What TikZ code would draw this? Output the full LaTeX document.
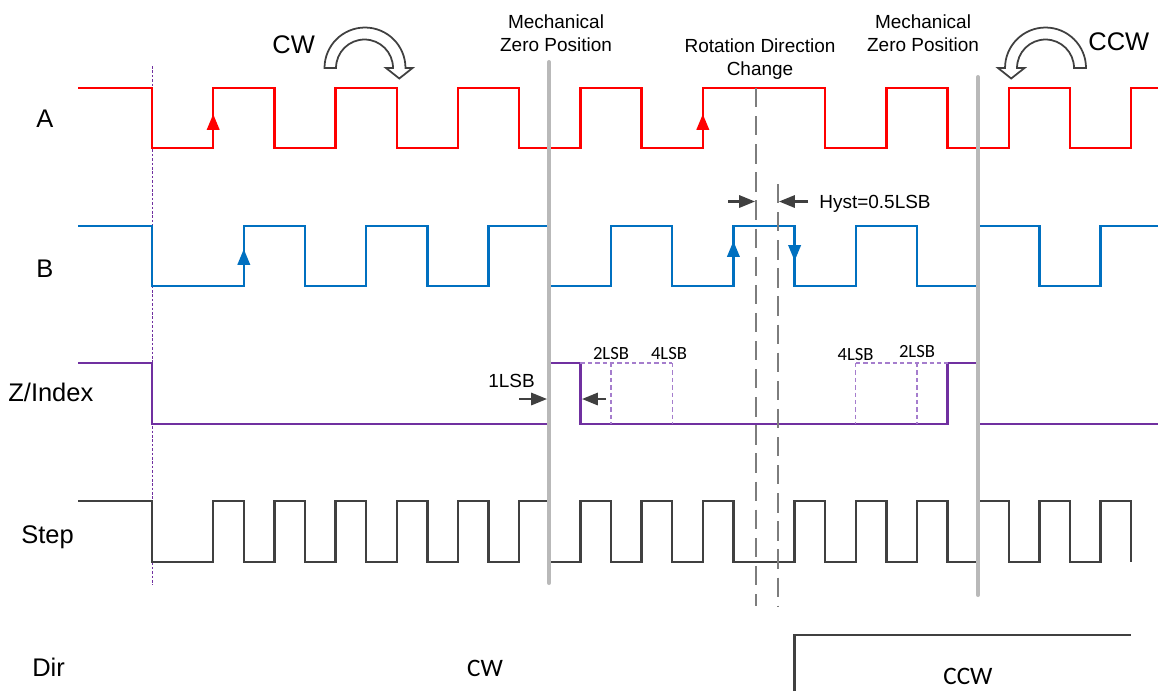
\documentclass[tikz,border=0pt]{standalone}
\usepackage{fontspec}
\setmainfont{Liberation Sans}
\newfontfamily\calibri{Carlito}
\usetikzlibrary{arrows.meta}

\definecolor{sigA}{RGB}{255,0,0}
\definecolor{sigB}{RGB}{0,112,192}
\definecolor{sigZ}{RGB}{112,48,160}
\definecolor{sigZlight}{RGB}{165,125,205}
\definecolor{darkline}{RGB}{64,64,64}
\definecolor{zeroline}{RGB}{185,185,185}
\definecolor{hystline}{RGB}{125,125,125}

\begin{document}
\begin{tikzpicture}[x=0.02cm,y=-0.02cm,
    wave/.style={line width=1.4pt,line join=miter},
    edgetip/.style={-{Triangle[length=9pt,width=7pt]}},
    marktip/.style={darkline,line width=1.2pt,-{Triangle[length=9pt,width=7pt]}},
    siglabel/.style={inner sep=0pt,font=\fontsize{14.5}{17}\selectfont},
    notetext/.style={inner sep=0pt,font=\fontsize{10.8}{13.3}\selectfont,align=center},
    lsbtext/.style={inner sep=0pt,font=\calibri\fontsize{10.6}{12}\selectfont},
    rotarrow/.style={draw=darkline,fill=white,line width=1pt,line join=miter}]
    \useasboundingbox (0,0) rectangle (1158,691);

    % signal names
    \node[siglabel,anchor=base west] (lblA) at (36,127) {A};
    \node[siglabel,anchor=base west] (lblB) at (36,277) {B};
    \node[siglabel,anchor=base west] (lblZ) at (8,401.5) {Z/Index};
    \node[siglabel,anchor=base west] (lblStep) at (21,543) {Step};
    \node[siglabel,anchor=base west] (lblDir) at (32,676) {Dir};

    % start of the waves
    \draw[sigZ,line width=0.5pt,dash pattern=on 1.5pt off 1pt] (152.5,66) -- (152.5,585);

    % waves
    \draw[wave,sigA] (78,88) -| (152,148) -| (213.2,88) -| (274.4,148) -| (335.6,88) -| (396.8,148) -| (458,88) -| (519.2,148) -| (580.4,88) -| (641.6,148) -| (702.8,88) -| (825.2,148) -| (886.4,88) -| (947.6,148) -| (1008.8,88) -| (1070,148) -| (1131.2,88) -- (1158,88);
    \draw[wave,sigB] (78,226) -| (152,286) -| (243.8,226) -| (305,286) -| (366.2,226) -| (427.4,286) -| (488.6,226) -| (549.8,286) -| (611,226) -| (672.2,286) -| (733.4,226) -| (794.6,286) -| (855.8,226) -| (917,286) -| (978.2,226) -| (1039.4,286) -| (1100.6,226) -- (1158,226);
    \draw[wave,sigZ] (78,363) -| (152,424) -| (549,363) -| (580.4,424) -| (947.6,363) -| (978,424) -- (1158,424);
    \draw[wave,darkline] (78,501) -| (152,562) -| (213.2,501) -| (243.8,562) -| (274.4,501) -| (305,562) -| (335.6,501) -| (366.2,562) -| (396.8,501) -| (427.4,562) -| (458,501) -| (488.6,562) -| (519.2,501) -| (549.8,562) -| (580.4,501) -| (611,562) -| (641.6,501) -| (672.2,562) -| (702.8,501) -| (733.4,562) -| (794.6,501) -| (825.2,562) -| (855.8,501) -| (886.4,562) -| (917,501) -| (947.6,562) -| (978.2,501) -| (1008.8,562) -| (1039.4,501) -| (1070,562) -| (1100.6,501) -| (1131.2,562);
    \draw[wave,darkline] (794.6,691) |- (1131.2,635);

    % edges that count
    \draw[wave,sigA,edgetip] (213.2,148) -- (213.2,114);
    \draw[wave,sigA,edgetip] (702.8,148) -- (702.8,114);
    \draw[wave,sigB,edgetip] (243.8,286) -- (243.8,249);
    \draw[wave,sigB,edgetip] (733.4,286) -- (733.4,241);
    \draw[wave,sigB,edgetip] (794.6,226) -- (794.6,261);

    % index windows
    \draw[sigZlight,line width=0.6pt,dash pattern=on 2.5pt off 1.7pt] (580.4,363) -- (672.2,363) (611,363) -- (611,424) (672.2,363) -- (672.2,424);
    \draw[sigZlight,line width=0.6pt,dash pattern=on 2.5pt off 1.7pt] (855.8,363) -- (947.6,363) (855.8,363) -- (855.8,424) (917,363) -- (917,424);

    % direction change
    \draw[hystline,line width=0.8pt,dash pattern=on 11pt off 5pt] (756,88) -- (756,606);
    \draw[hystline,line width=0.8pt,dash pattern=on 11pt off 5pt] (778,184) -- (778,606);

    % mechanical zero
    \draw[zeroline,line width=2.3pt,line cap=round] (549,62) -- (549,583);
    \draw[zeroline,line width=2.3pt,line cap=round] (978,77) -- (978,595);

    % hysteresis and 1LSB marks
    \draw[marktip] (728,201.5) -- (755,201.5);
    \draw[marktip] (808,201.5) -- (779,201.5);
    \draw[marktip] (519,399) -- (547,399);
    \draw[marktip] (606,399) -- (582,399);

    % rotation arrows
    \draw[rotarrow] (324.5,68) arc[start angle=180,end angle=0,radius=0.81cm] -- (412.5,68) -- (399.3,78.5) -- (386,68) -- (393,68) arc[start angle=0,end angle=180,radius=0.57cm] -- cycle;
    \draw[rotarrow] (1086,68) arc[start angle=0,end angle=180,radius=0.81cm] -- (998,68) -- (1011.2,78.5) -- (1024.5,68) -- (1017,68) arc[start angle=180,end angle=0,radius=0.57cm] -- cycle;

    % texts
    \node[siglabel,anchor=base west] (cwtop) at (272,53) {CW};
    \node[siglabel,anchor=base west] (ccwtop) at (1088,50) {CCW};
    \node[notetext] (zero1) at (556,33) {Mechanical\\Zero Position};
    \node[notetext] (zero2) at (923,33) {Mechanical\\Zero Position};
    \node[notetext] (dirchange) at (760,59) {Rotation Direction\\Change};
    \node[notetext,anchor=base west] (hyst) at (819,208) {Hyst=0.5LSB};
    \node[notetext,anchor=base west] (lsb1) at (488,387) {1LSB};
    \node[lsbtext,anchor=base] (lsb2a) at (611,359.5) {2LSB};
    \node[lsbtext,anchor=base] (lsb4a) at (669,359.5) {4LSB};
    \node[lsbtext,anchor=base] (lsb4b) at (855.6,360) {4LSB};
    \node[lsbtext,anchor=base] (lsb2b) at (917,357) {2LSB};
    \node[lsbtext,anchor=base,font=\calibri\fontsize{14.3}{16}\selectfont] (dircw) at (485,676) {CW};
    \node[lsbtext,anchor=base,font=\calibri\fontsize{14.3}{16}\selectfont] (dirccw) at (968,684) {CCW};
\end{tikzpicture}
\end{document}
